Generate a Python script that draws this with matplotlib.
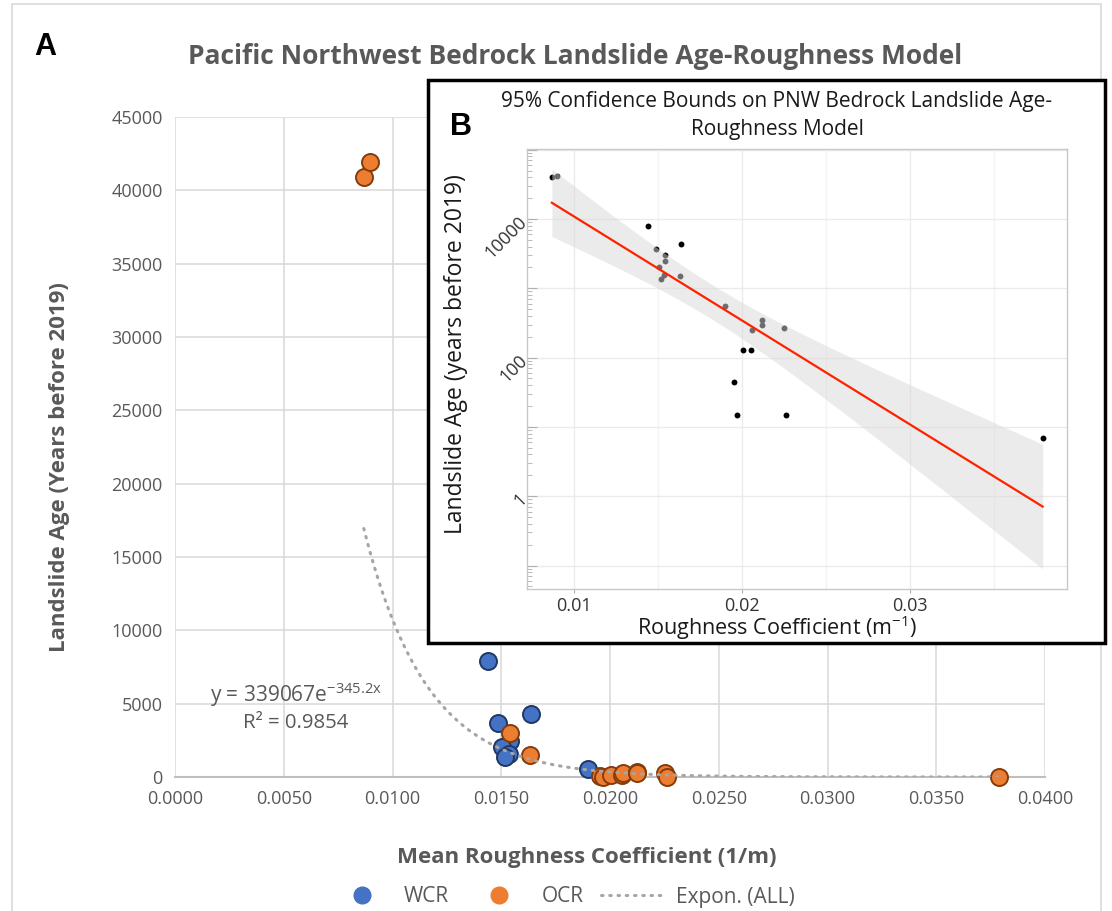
import numpy as np
import matplotlib
matplotlib.use('Agg')
import matplotlib.pyplot as plt
from matplotlib.patches import Rectangle
from matplotlib.lines import Line2D
from matplotlib.ticker import FixedLocator, LogLocator, MultipleLocator, FuncFormatter

plt.rcParams['font.family'] = ['Open Sans', 'DejaVu Sans']

# ---------------- data ----------------
wcr_x = [0.01439, 0.01636, 0.01487, 0.01540, 0.01505, 0.01537, 0.01515, 0.01900]
wcr_y = [7900, 4300, 3680, 2470, 2040, 1570, 1350, 560]

ocr_x = [0.00868, 0.00898, 0.01542, 0.01630, 0.01955, 0.01970, 0.02005, 0.02055,
         0.02058, 0.02122, 0.02122, 0.02252, 0.02262, 0.03790]
ocr_y = [40900, 41900, 3000, 1480, 44, 15, 129, 129,
         250, 352, 295, 267, 15, 7]

fit_a = 339067
fit_b = -345.2
eq_text = r'y = 339067e$^{\mathregular{-345.2x}}$'
r2_text = 'R² = 0.9854'

x_ticks = [0.0000, 0.0050, 0.0100, 0.0150, 0.0200, 0.0250, 0.0300, 0.0350, 0.0400]
y_ticks = [0, 5000, 10000, 15000, 20000, 25000, 30000, 35000, 40000, 45000]
inset_x_ticks = [0.01, 0.02, 0.03]
inset_y_labels = {1: '1', 100: '100', 10000: '10000'}
t_crit = 2.086  # t(0.975, df=20)

# ---------------- figure ----------------
W, H = 1112, 911
fig = plt.figure(figsize=(W / 100, H / 100), dpi=100)


def fx(px):
    return px / W


def fy(py):
    return 1 - py / H


grey_txt = '#595959'

# outer chart border
fig.patches.append(Rectangle((fx(12), fy(915)), fx(1101) - fx(12), fy(4) - fy(915),
                             transform=fig.transFigure, fill=False,
                             edgecolor='#d9d9d9', lw=1.2, zorder=0.5))

# ---------------- main axes (A) ----------------
ax = fig.add_axes([fx(175), fy(777), fx(1045) - fx(175), fy(117) - fy(777)], zorder=0)
ax.set_xlim(0, 0.04)
ax.set_ylim(0, 45000)
ax.set_xticks(x_ticks)
ax.set_yticks(y_ticks)
ax.xaxis.set_major_formatter(FuncFormatter(lambda v, p: f'{v:.4f}'))
ax.yaxis.set_major_formatter(FuncFormatter(lambda v, p: f'{int(round(v))}'))
ax.grid(True, color='#d9d9d9', lw=1.1)
ax.set_axisbelow(True)
for s in ['top', 'right', 'left']:
    ax.spines[s].set_visible(False)
ax.spines['bottom'].set_color('#bfbfbf')
ax.spines['bottom'].set_linewidth(1.5)
ax.tick_params(length=0, labelsize=13, labelcolor=grey_txt, pad=9)

ax.scatter(wcr_x, wcr_y, s=150, c='#4472C4', edgecolors='#203864', linewidths=1.4,
           zorder=3, clip_on=False)
ax.scatter(ocr_x, ocr_y, s=150, c='#ED7D31', edgecolors='#843C0C', linewidths=1.4,
           zorder=3, clip_on=False)

all_x = np.array(wcr_x + ocr_x)
all_y = np.array(wcr_y + ocr_y)
xs = np.linspace(all_x.min(), all_x.max(), 400)
ax.plot(xs, fit_a * np.exp(fit_b * xs), color='#a5a5a5', lw=2.2,
        linestyle=(0, (0.5, 2.2)), dash_capstyle='round', zorder=4)

fig.text(fx(296), fy(695), eq_text, ha='center', va='center', fontsize=15, color=grey_txt)
fig.text(fx(296), fy(723), r2_text, ha='center', va='center', fontsize=14.7, color=grey_txt)

fig.text(fx(575), fy(57), 'Pacific Northwest Bedrock Landslide Age-Roughness Model',
         ha='center', va='center', fontsize=19, fontweight='bold', color=grey_txt)
fig.text(fx(60), fy(467), 'Landslide Age (Years before 2019)', rotation=90,
         ha='center', va='center', fontsize=16, fontweight='bold', color=grey_txt)
fig.text(fx(587), fy(857), 'Mean Roughness Coefficient (1/m)',
         ha='center', va='center', fontsize=16, fontweight='bold', color=grey_txt)
fig.text(fx(45), fy(47), 'A', ha='center', va='center', fontsize=22,
         fontweight='bold', color='black', family='Liberation Sans')

handles = [Line2D([], [], marker='o', ls='', color='#4472C4', markersize=12),
           Line2D([], [], marker='o', ls='', color='#ED7D31', markersize=12),
           Line2D([], [], color='#a5a5a5', lw=2.2, linestyle=(0, (0.5, 2.2)),
                  dash_capstyle='round')]
fig.legend(handles, ['WCR', 'OCR', 'Expon. (ALL)'], loc='center',
           bbox_to_anchor=(fx(562), fy(897)), ncol=3, frameon=False, fontsize=15,
           labelcolor=grey_txt, columnspacing=0.84, handletextpad=0.48,
           handlelength=3.12)

# ---------------- inset frame (B) ----------------
fig.patches.append(Rectangle((fx(428), fy(643)), fx(1105) - fx(428), fy(80) - fy(643),
                             transform=fig.transFigure, facecolor='white',
                             edgecolor='black', lw=2.5, zorder=1))

axi = fig.add_axes([fx(527), fy(589), fx(1067) - fx(527), fy(149) - fy(589)], zorder=2)
axi.set_yscale('log')
axi.set_xlim(0.0072, 0.03935)
axi.set_ylim(10 ** -1.339, 10 ** 5.01)

# regression in log10 space with 95% CI
lx = all_x
ly = np.log10(all_y)
n = len(lx)
b1, b0 = np.polyfit(lx, ly, 1)
resid = ly - (b0 + b1 * lx)
s_err = np.sqrt(np.sum(resid ** 2) / (n - 2))
sxx = np.sum((lx - lx.mean()) ** 2)
xg = np.linspace(lx.min(), lx.max(), 300)
yg = b0 + b1 * xg
half = t_crit * s_err * np.sqrt(1 / n + (xg - lx.mean()) ** 2 / sxx)

axi.scatter(all_x, all_y, s=18, c='black', linewidths=0, zorder=2)
axi.fill_between(xg, 10 ** (yg - half), 10 ** (yg + half), color='#d9d9d9',
                 alpha=0.5, lw=0, zorder=3)
axi.plot(xg, 10 ** yg, color='#ff2200', lw=1.6, zorder=4)

axi.xaxis.set_major_locator(FixedLocator(inset_x_ticks))
axi.xaxis.set_minor_locator(MultipleLocator(0.005))
axi.xaxis.set_major_formatter(FuncFormatter(lambda v, p: f'{v:.2f}'))
axi.yaxis.set_major_locator(FixedLocator([10.0 ** k for k in range(-1, 6)]))
axi.yaxis.set_minor_locator(LogLocator(base=10, subs=np.arange(2, 10), numticks=20))
axi.yaxis.set_major_formatter(FuncFormatter(
    lambda v, p: inset_y_labels.get(int(round(v)), '') if v >= 0.5 else ''))
axi.yaxis.set_minor_formatter(FuncFormatter(lambda v, p: ''))

axi.grid(True, which='major', color='#ebebeb', lw=1.0)
axi.xaxis.grid(True, which='minor', color='#f3f3f3', lw=1.0)
axi.set_axisbelow(True)
for s in axi.spines.values():
    s.set_color('#c8c8c8')
    s.set_linewidth(1.0)
axi.tick_params(axis='y', which='major', direction='in', length=7, color='#b0b0b0',
                labelsize=13, labelcolor='#333333', pad=2)
axi.tick_params(axis='y', which='minor', direction='in', length=3.5, color='#b0b0b0')
axi.tick_params(axis='x', which='major', direction='out', length=3, color='#b0b0b0',
                labelsize=13, labelcolor='#333333', pad=3)
axi.tick_params(axis='x', which='minor', length=0)
for lab in axi.get_yticklabels():
    lab.set_rotation(45)
    lab.set_ha('right')
    lab.set_va('center')
    lab.set_rotation_mode('anchor')

fig.text(fx(777), fy(102), '95% Confidence Bounds on PNW Bedrock Landslide Age-',
         ha='center', va='center', fontsize=15, color='#1a1a1a', zorder=3)
fig.text(fx(777), fy(130), 'Roughness Model',
         ha='center', va='center', fontsize=15, color='#1a1a1a', zorder=3)
fig.text(fx(461), fy(127), 'B', ha='center', va='center', fontsize=22,
         fontweight='bold', color='black', family='Liberation Sans', zorder=3)
fig.text(fx(456), fy(354), 'Landslide Age (years before 2019)', rotation=90,
         ha='center', va='center', fontsize=16.5, color='#1a1a1a', zorder=3)
fig.text(fx(777), fy(628), r'Roughness Coefficient (m$^{\mathregular{-1}}$)',
         ha='center', va='center', fontsize=15.5, color='#1a1a1a', zorder=3)

fig.savefig('out.png', dpi=100)
